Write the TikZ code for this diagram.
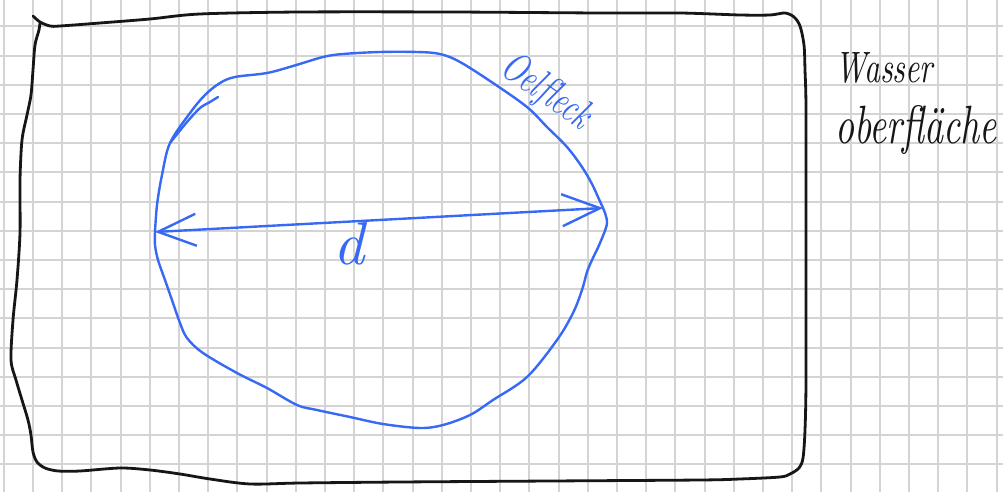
\documentclass[tikz,border=0pt]{standalone}
\usepackage{fontspec}
\usetikzlibrary{arrows.meta}
\definecolor{pen}{RGB}{55,105,245}
\definecolor{ink}{RGB}{22,22,22}
\definecolor{gridc}{RGB}{212,212,212}
\begin{document}
\begin{tikzpicture}[x=1pt,y=-1pt, line cap=round, line join=round,
  gridline/.style={gridc,line width=2pt},
  border/.style={ink,line width=2.8pt},
  blob/.style={pen,line width=2.4pt},
  hand/.style={inner sep=0pt},
  barbs/.style={{Straight Barb[length=38pt,width=32pt]}-{Straight Barb[length=38pt,width=32pt]}}]
\useasboundingbox (0,0) rectangle (1003,492);
\fill[white] (0,0) rectangle (1003,492);
% squared paper
\foreach \i in {0,...,34} \draw[gridline] ({3.8+29.2*\i},0) -- ({3.8+29.2*\i},492);
\foreach \j in {0,...,15} \draw[gridline] (0,{26.4+29.2*\j}) -- (1003,{26.4+29.2*\j});
% water surface border
\draw[border] plot[smooth, tension=0.5] coordinates {
  (33,16) (40,22) (50,26) (60,26) (100,23) (150,19) (200,14) (300,12) (450,12)
  (600,13) (680,13) (740,15) (770,15) (785,13) (794,17) (800,26) (804,45)
  (805,70) (806,110) (806,250) (806,380) (805,430) (803,458) (799,468) (790,474)
  (780,477) (740,479) (700,480) (550,481) (400,482) (300,483) (250,484) (210,479)
  (180,474) (150,470) (120,468) (80,471) (58,471) (45,468) (37,462) (33,452)
  (31,435) (28,420) (22,400) (16,380) (11,360) (13,320) (17,280) (20,233) (20,180)
  (22,140) (27,115) (31,95) (33,70) (35,45) (39,30) (40,23)};
% oil spot
\coordinate (dl) at (155,232);
\coordinate (dr) at (603,208);
\draw[blob] plot[smooth, tension=0.55] coordinates {
  (155,232) (157,205) (162,175) (170,143) (190,113) (205,95) (220,83) (235,77)
  (267,73) (293,66) (323,57) (343,54) (380,52) (417,52) (440,54) (460,62)
  (493,83) (527,107) (547,127) (567,147) (582,167) (592,184) (598,197) (603,208)};
\draw[blob] plot[smooth, tension=0.55] coordinates {
  (603,208) (607,223) (600,243) (592,260) (587,272) (582,290) (573,313) (557,340)
  (527,377) (493,400) (470,415) (443,425) (420,428) (383,424) (350,417) (317,410)
  (297,405) (267,388) (237,373) (203,353) (187,338) (180,323) (173,303) (165,280)
  (158,260) (155,245) (155,232)};
\draw[blob] plot[smooth, tension=0.5] coordinates {(170,143) (187,122) (200,108) (210,102) (218,97)};
% diameter
\draw[blob, barbs] (dl) -- (dr);
% labels
\node[hand, pen, anchor=center] (d) at (351,244) {\resizebox{34pt}{42pt}{\textit{d}}};
\node[hand, pen, anchor=base west, rotate=-35] (oel) at (498,72) {\resizebox{102pt}{30pt}{\textit{Oelfleck}}};
\node[hand, ink, anchor=base west] (w1) at (835,83) {\resizebox{100pt}{30pt}{\textit{Wasser}}};
\node[hand, ink, anchor=base west] (w2) at (835,143) {\resizebox{162pt}{38pt}{\textit{oberfläche}}};
\end{tikzpicture}
\end{document}
